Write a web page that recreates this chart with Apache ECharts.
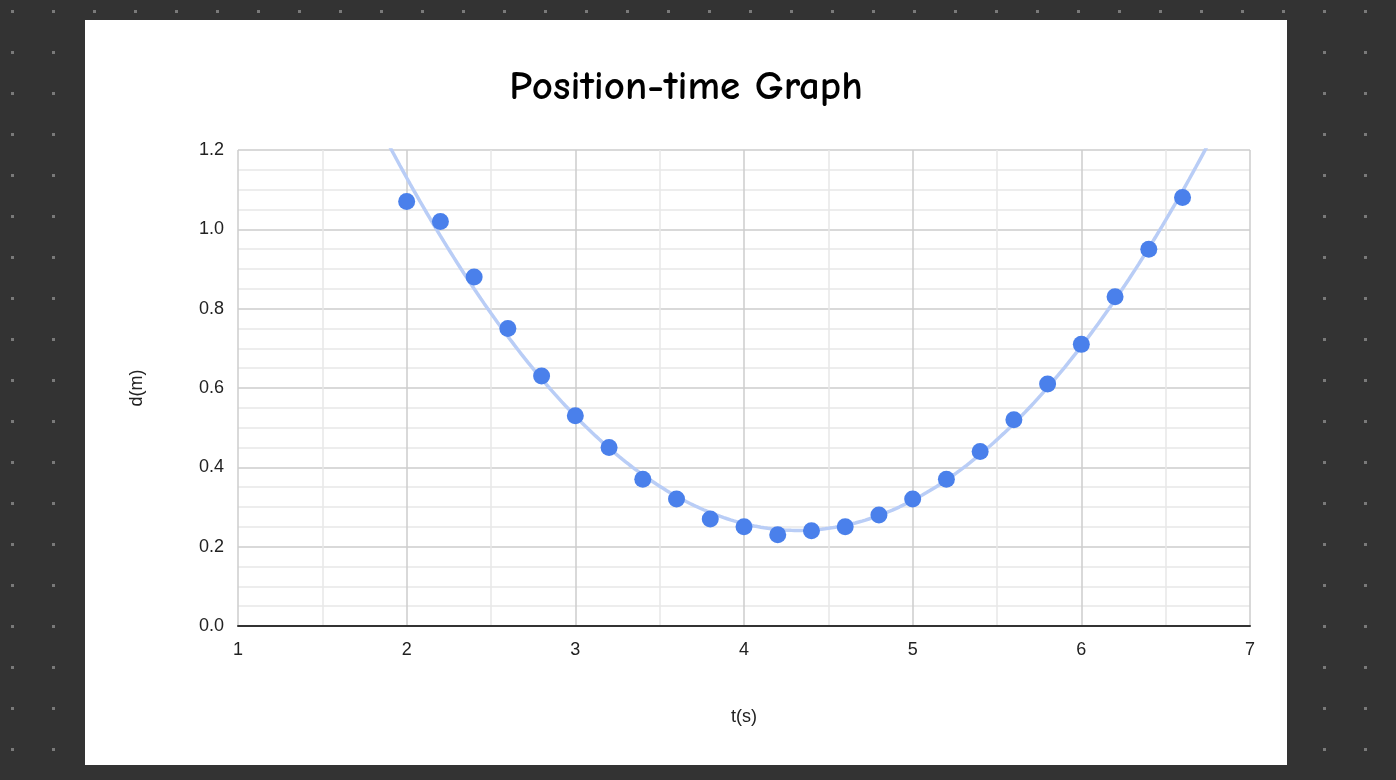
<!DOCTYPE html>
<html>
<head>
<meta charset="utf-8">
<script src="https://cdn.jsdelivr.net/npm/echarts@6/dist/echarts.min.js"></script>
<style>
  html, body { margin:0; padding:0; width:1396px; height:780px; overflow:hidden;
    background-color:#333333;
    background-image: radial-gradient(circle, #7a7a7a 1.6px, transparent 2px);
    background-size: 41px 41px; background-position: -8px -9px; }
  #card { position:absolute; left:85px; top:20px; width:1202px; height:745px; background:#ffffff; }
  #chart { width:1202px; height:745px; }
</style>
</head>
<body>
<div id="card"><div id="chart"></div></div>
<script>
const titleText = 'Position-time Graph';
const xName = 't(s)';
const yName = 'd(m)';
const times = [2.0, 2.2, 2.4, 2.6, 2.8, 3.0, 3.2, 3.4, 3.6, 3.8, 4.0, 4.2, 4.4, 4.6, 4.8, 5.0, 5.2, 5.4, 5.6, 5.8, 6.0, 6.2, 6.4, 6.6];
const distances = [1.07, 1.02, 0.88, 0.75, 0.63, 0.53, 0.45, 0.37, 0.32, 0.27, 0.25, 0.23, 0.24, 0.25, 0.28, 0.32, 0.37, 0.44, 0.52, 0.61, 0.71, 0.83, 0.95, 1.08];

// Quadratic least-squares trendline fitted to the data (as the original chart's polynomial trendline)
function quadFit(xs, ys) {
  let S = [0,0,0,0,0], T = [0,0,0];
  for (let i = 0; i < xs.length; i++) {
    let p = 1;
    for (let k = 0; k < 5; k++) { S[k] += p; if (k < 3) T[k] += p * ys[i]; p *= xs[i]; }
  }
  const M = [[S[0],S[1],S[2],T[0]],[S[1],S[2],S[3],T[1]],[S[2],S[3],S[4],T[2]]];
  for (let c = 0; c < 3; c++) {
    for (let r = c + 1; r < 3; r++) {
      const f = M[r][c] / M[c][c];
      for (let k = c; k < 4; k++) M[r][k] -= f * M[c][k];
    }
  }
  const s = [0,0,0];
  for (let r = 2; r >= 0; r--) {
    let v = M[r][3];
    for (let k = r + 1; k < 3; k++) v -= M[r][k] * s[k];
    s[r] = v / M[r][r];
  }
  return s;
}
const coef = quadFit(times, distances);
const trend = [];
for (let i = 0; i <= 300; i++) {
  const t = 1 + i * 0.02;
  trend.push([t, coef[0] + coef[1] * t + coef[2] * t * t]);
}
const points = times.map((t, i) => [t, distances[i]]);

const chart = echarts.init(document.getElementById('chart'), null, { renderer: 'canvas' });
chart.setOption({
  backgroundColor: '#ffffff',
  animation: false,
  title: {
    text: titleText, left: 'center', top: 42,
    textStyle: { fontFamily: '"Comic Sans MS", "Comic Neue", "DejaVu Sans"', fontSize: 41, fontWeight: 'bold', color: '#000000' }
  },
  grid: { left: 153, right: 37, top: 130, bottom: 139 },
  xAxis: {
    type: 'value', min: 1, max: 7, interval: 1,
    name: xName, nameLocation: 'middle', nameGap: 82,
    nameTextStyle: { fontFamily: 'Liberation Sans', fontSize: 18, color: '#222' },
    axisLine: { show: true, onZero: false, lineStyle: { color: '#333333', width: 2 } },
    axisTick: { show: false },
    axisLabel: { fontFamily: 'Liberation Sans', fontSize: 18, color: '#222', margin: 15 },
    splitLine: { show: true, lineStyle: { color: '#cccccc', width: 1.5 } },
    minorTick: { show: false, splitNumber: 2 },
    minorSplitLine: { show: true, lineStyle: { color: '#e8e8e8', width: 1.5 } }
  },
  yAxis: {
    type: 'value', min: 0, max: 1.2, interval: 0.2,
    name: yName, nameLocation: 'middle', nameGap: 92, nameRotate: 90,
    nameTextStyle: { fontFamily: 'Liberation Sans', fontSize: 18, color: '#222' },
    axisLine: { show: false },
    axisTick: { show: false },
    axisLabel: { fontFamily: 'Liberation Sans', fontSize: 18, color: '#222', margin: 14,
      formatter: v => v.toFixed(1) },
    splitLine: { show: true, lineStyle: { color: '#cccccc', width: 1.5 } },
    minorTick: { show: false, splitNumber: 4 },
    minorSplitLine: { show: true, lineStyle: { color: '#e8e8e8', width: 1.5 } }
  },
  series: [
    {
      type: 'line', data: trend, showSymbol: false, smooth: false, clip: true,
      lineStyle: { color: '#b9cdf6', width: 3.5 }, silent: true, z: 2
    },
    {
      type: 'scatter', data: points, symbol: 'circle', symbolSize: 17,
      itemStyle: { color: '#4a80eb', opacity: 1 }, z: 3
    }
  ]
});
</script>
</body>
</html>
